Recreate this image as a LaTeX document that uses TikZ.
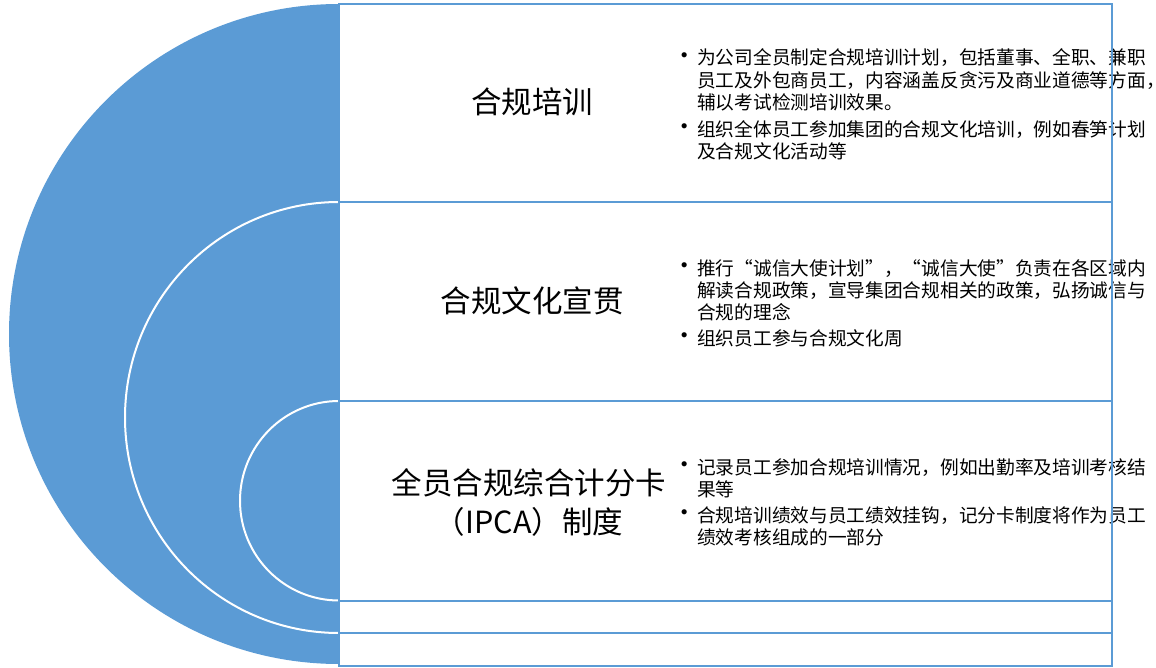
\documentclass[tikz,border=0pt]{standalone}
\usepackage{fontspec}
\setmainfont{Noto Sans CJK SC}
\definecolor{accent}{RGB}{91,155,213}
\newcommand\bulletmark{\makebox[0pt][r]{\raisebox{0.5pt}{\scalebox{1.3}{•}}\hspace{0pt}}}
\begin{document}
\begin{tikzpicture}[x=1pt,y=-1pt,
  boxline/.style={draw=accent, line width=2pt},
  ringline/.style={draw=white, line width=2pt},
  heading/.style={font=\fontsize{30.5}{39}\selectfont, align=center, inner sep=0pt, anchor=center},
  bullettext/.style={font=\fontsize{18.7}{22.3}\selectfont, align=left, inner sep=0pt, anchor=base west}]
\useasboundingbox (0,0) rectangle (1156,668);
% blue half disc
\fill[accent] (339,4) arc[start angle=270, end angle=90, x radius=330, y radius=330] -- cycle;
% white rings
\draw[ringline] (339,202) arc[start angle=270, end angle=90, x radius=214, y radius=215.5];
\draw[ringline] (339,401) arc[start angle=270, end angle=90, x radius=99, y radius=99.75];
% headings
\node[heading] (h1) at (532,101.7) {合规培训};
\node[heading] (h2) at (532,301) {合规文化宣贯};
\node[heading] (h3) at (529,502) {全员合规综合计分卡\\（IPCA）制度};
% bullets (anchor = baseline of the last line)
\node[bullettext] (t1a) at (697,109.6) {\bulletmark 为公司全员制定合规培训计划，包括董事、全职、兼职\\员工及外包商员工，内容涵盖反贪污及商业道德等方面，\\辅以考试检测培训效果。};
\node[bullettext] (t1b) at (697,158.5) {\bulletmark 组织全体员工参加集团的合规文化培训，例如春笋计划\\及合规文化活动等};
\node[bullettext] (t2a) at (697,319.6) {\bulletmark 推行“诚信大使计划”，“诚信大使”负责在各区域内\\解读合规政策，宣导集团合规相关的政策，弘扬诚信与\\合规的理念};
\node[bullettext] (t2b) at (697,345) {\bulletmark 组织员工参与合规文化周};
\node[bullettext] (t3a) at (697,496.3) {\bulletmark 记录员工参加合规培训情况，例如出勤率及培训考核结\\果等};
\node[bullettext] (t3b) at (697,544.3) {\bulletmark 合规培训绩效与员工绩效挂钩，记分卡制度将作为员工\\绩效考核组成的一部分};
% boxes
\draw[boxline] (339,4) rectangle (1112,202);
\draw[boxline] (339,202) rectangle (1112,401);
\draw[boxline] (339,401) rectangle (1112,600.5);
\draw[boxline] (339,600.5) rectangle (1112,633);
\draw[boxline] (339,633) rectangle (1112,666);
\end{tikzpicture}
\end{document}
